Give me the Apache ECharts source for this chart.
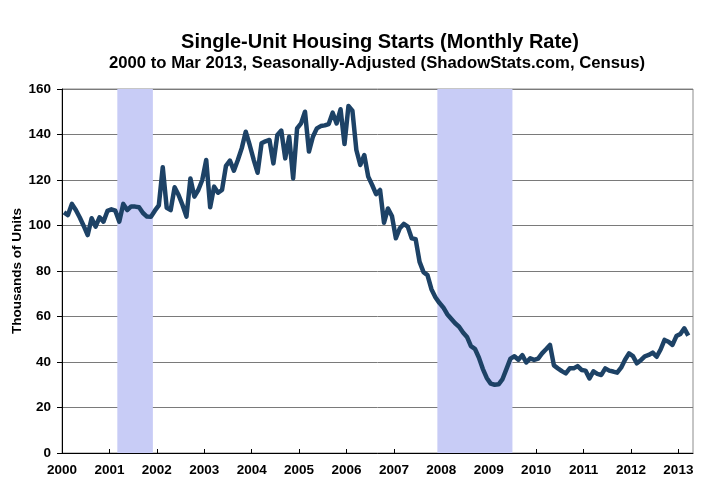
<!DOCTYPE html>
<html>
<head>
<meta charset="utf-8">
<script src="https://cdn.jsdelivr.net/npm/echarts@6/dist/echarts.min.js"></script>
<style>html,body{margin:0;padding:0;background:#fff}#c{width:721px;height:500px}</style>
</head>
<body>
<div id="c"></div>
<script>
// Single-unit housing starts, monthly rate (thousands), Jan 2000 .. Mar 2013
const y2000 = [105.8, 104.6, 109.5, 106.8, 103.5, 99.8, 95.8, 103.2, 99.5, 103.6, 101.7, 106.4];
const y2001 = [107.1, 106.5, 101.7, 109.5, 106.8, 108.4, 108.3, 108.0, 105.5, 103.9, 103.8, 106.5];
const y2002 = [108.8, 125.6, 107.8, 106.8, 116.8, 113.4, 109.0, 103.9, 120.7, 112.7, 115.6, 120.0];
const y2003 = [128.8, 108.0, 117.1, 114.4, 115.6, 126.2, 128.5, 124.1, 128.8, 134.0, 141.2, 135.4];
const y2004 = [129.0, 123.2, 136.1, 137.0, 137.6, 127.3, 139.8, 141.7, 129.5, 139.0, 120.7, 142.7];
const y2005 = [144.9, 150.0, 132.5, 139.0, 142.7, 143.7, 144.0, 144.6, 149.6, 144.9, 151.1, 135.8];
const y2006 = [152.5, 150.5, 133.2, 126.6, 131.0, 121.5, 117.8, 113.8, 115.6, 101.2, 107.5, 104.2];
const y2007 = [94.4, 98.8, 100.7, 99.5, 94.4, 94.0, 84.0, 79.5, 78.2, 72.0, 68.5, 66.0];
const y2008 = [64.0, 61.0, 59.0, 57.0, 55.5, 53.0, 51.0, 47.0, 45.8, 42.0, 37.0, 33.0];
const y2009 = [30.5, 30.0, 30.2, 32.5, 37.0, 41.5, 42.5, 41.0, 43.0, 39.8, 41.6, 40.9];
const y2010 = [41.5, 43.8, 45.6, 47.5, 38.5, 37.2, 36.0, 35.0, 37.2, 37.2, 38.2, 36.5];
const y2011 = [36.2, 32.8, 35.9, 34.8, 34.3, 37.2, 36.2, 35.8, 35.3, 37.5, 41.0, 43.8];
const y2012 = [42.6, 39.4, 40.8, 42.5, 43.1, 44.1, 42.3, 45.5, 49.7, 48.9, 47.5, 51.4];
const y2013 = [52.3, 54.8, 51.6];

const yearTickLabels = ['2000','2001','2002','2003','2004','2005','2006','2007','2008','2009','2010','2011','2012','2013'];
// recession periods in month index from Jan 2000 (start, end-exclusive)
const recessionStart = [14, 95];
const recessionEnd = [23, 114];

const values = [].concat(y2000, y2001, y2002, y2003, y2004, y2005, y2006, y2007, y2008, y2009, y2010, y2011, y2012, y2013);
const seriesData = values.map((v, i) => [i + 0.5, v]);
const tickPositions = yearTickLabels.map((_, i) => i * 12);

const chart = echarts.init(document.getElementById('c'), null, {renderer: 'canvas'});
const FONT = '"Liberation Sans", Arial, sans-serif';
chart.setOption({
  animation: false,
  backgroundColor: '#ffffff',
  title: [
    {text: 'Single-Unit Housing Starts (Monthly Rate)', left: 375, top: 27, textAlign: 'center',
     textStyle: {fontFamily: FONT, fontSize: 20, fontWeight: 'bold', color: '#000'}},
    {text: '2000 to Mar 2013, Seasonally-Adjusted (ShadowStats.com, Census)', left: 372, top: 50, textAlign: 'center',
     textStyle: {fontFamily: FONT, fontSize: 16.7, fontWeight: 'bold', color: '#000'}}
  ],
  grid: {left: 62, right: 28, top: 89, bottom: 47, containLabel: false, outerBoundsMode: 'none',
         show: true, borderColor: '#8c8c8c', borderWidth: 1},
  xAxis: {
    type: 'value', min: 0, max: 159.7, interval: 12,
    axisLine: {show: true, lineStyle: {color: '#000', width: 1}},
    axisTick: {show: true, inside: true, length: 4, lineStyle: {color: '#000'}, customValues: tickPositions},
    axisLabel: {customValues: tickPositions, formatter: v => yearTickLabels[Math.round(v / 12)],
      fontFamily: FONT, fontSize: 13.5, fontWeight: 'bold', color: '#000', margin: 10},
    splitLine: {show: false}
  },
  yAxis: {
    type: 'value', min: 0, max: 160, interval: 20,
    name: 'Thousands of Units', nameLocation: 'middle', nameGap: 38, nameMoveOverlap: false,
    nameTextStyle: {fontFamily: FONT, fontSize: 13.5, fontWeight: 'bold', color: '#000'},
    axisLine: {show: true, lineStyle: {color: '#000', width: 1}},
    axisTick: {show: true, inside: false, length: 5, lineStyle: {color: '#000'}},
    axisLabel: {fontFamily: FONT, fontSize: 13.5, fontWeight: 'bold', color: '#000', margin: 11},
    splitLine: {show: true, lineStyle: {color: '#7a7a7a', width: 1}}
  },
  series: [{
    type: 'line',
    data: seriesData,
    showSymbol: false,
    lineStyle: {color: '#1d4266', width: 4.5, join: 'round'},
    z: 3,
    markArea: {
      silent: true,
      itemStyle: {color: '#c8ccf6'},
      data: recessionStart.map((s, i) => [{xAxis: s}, {xAxis: recessionEnd[i]}])
    }
  }]
});
</script>
</body>
</html>
